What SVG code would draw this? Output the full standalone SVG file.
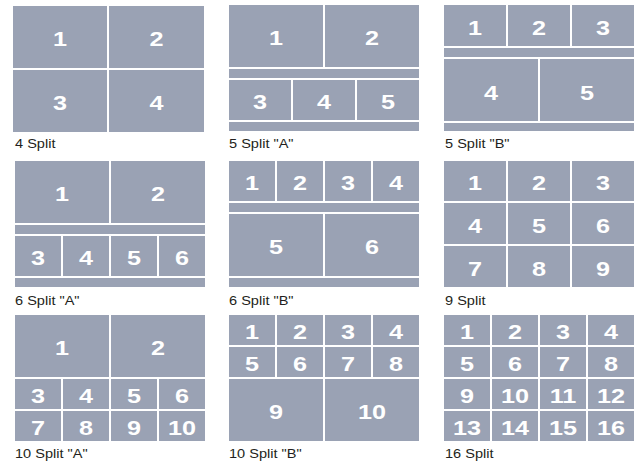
<svg xmlns="http://www.w3.org/2000/svg" width="640" height="462" viewBox="0 0 640 462">
<style>
.c{fill:#9aa2b4}
.n{font-family:"Liberation Sans",Arial,sans-serif;font-weight:bold;font-size:21px;fill:#fff;text-anchor:middle}
.l{font-family:"Liberation Sans",Arial,sans-serif;font-size:13px;fill:#231f20}
</style>
<rect width="640" height="462" fill="#fff"/>
<g id="split4">
<rect class="c" x="13" y="6" width="94" height="62"/><rect class="c" x="109" y="6" width="95" height="62"/>
<rect class="c" x="13" y="70" width="94" height="62"/><rect class="c" x="109" y="70" width="95" height="62"/>
<text class="n" transform="translate(60,45.5) scale(1.2,1)">1</text>
<text class="n" transform="translate(156.5,45.5) scale(1.2,1)">2</text>
<text class="n" transform="translate(60,109.5) scale(1.2,1)">3</text>
<text class="n" transform="translate(156.5,109.5) scale(1.2,1)">4</text>
<text class="l" transform="translate(15,148) scale(1.12,1)">4 Split</text>
</g>
<g id="split5a">
<rect class="c" x="229" y="5" width="94" height="62"/><rect class="c" x="325" y="5" width="94" height="62"/>
<rect class="c" x="229" y="69" width="190" height="9"/>
<rect class="c" x="229" y="80" width="62" height="40"/><rect class="c" x="293" y="80" width="62" height="40"/><rect class="c" x="357" y="80" width="62" height="40"/>
<rect class="c" x="229" y="122" width="190" height="9"/>
<text class="n" transform="translate(276,44.5) scale(1.2,1)">1</text>
<text class="n" transform="translate(372,44.5) scale(1.2,1)">2</text>
<text class="n" transform="translate(260,108.5) scale(1.2,1)">3</text>
<text class="n" transform="translate(324,108.5) scale(1.2,1)">4</text>
<text class="n" transform="translate(388,108.5) scale(1.2,1)">5</text>
<text class="l" transform="translate(229,148) scale(1.12,1)">5 Split "A"</text>
</g>
<g id="split5b">
<rect class="c" x="444" y="5" width="62" height="41"/><rect class="c" x="508" y="5" width="62" height="41"/><rect class="c" x="572" y="5" width="62" height="41"/>
<rect class="c" x="444" y="48" width="190" height="9"/>
<rect class="c" x="444" y="59" width="94" height="62"/><rect class="c" x="540" y="59" width="94" height="62"/>
<rect class="c" x="444" y="123" width="190" height="8"/>
<text class="n" transform="translate(475,34.5) scale(1.2,1)">1</text>
<text class="n" transform="translate(539,34.5) scale(1.2,1)">2</text>
<text class="n" transform="translate(603,34.5) scale(1.2,1)">3</text>
<text class="n" transform="translate(491,99.5) scale(1.2,1)">4</text>
<text class="n" transform="translate(587,99.5) scale(1.2,1)">5</text>
<text class="l" transform="translate(445,148) scale(1.12,1)">5 Split "B"</text>
</g>
<g id="split6a">
<rect class="c" x="15" y="161" width="94" height="62"/><rect class="c" x="111" y="161" width="94" height="62"/>
<rect class="c" x="15" y="225" width="190" height="9"/>
<rect class="c" x="15" y="236" width="46" height="40"/><rect class="c" x="63" y="236" width="46" height="40"/><rect class="c" x="111" y="236" width="46" height="40"/><rect class="c" x="159" y="236" width="46" height="40"/>
<rect class="c" x="15" y="278" width="190" height="9"/>
<text class="n" transform="translate(62,200.5) scale(1.2,1)">1</text>
<text class="n" transform="translate(158,200.5) scale(1.2,1)">2</text>
<text class="n" transform="translate(38,265) scale(1.2,1)">3</text>
<text class="n" transform="translate(86,265) scale(1.2,1)">4</text>
<text class="n" transform="translate(134,265) scale(1.2,1)">5</text>
<text class="n" transform="translate(182,265) scale(1.2,1)">6</text>
<text class="l" transform="translate(15,305) scale(1.12,1)">6 Split "A"</text>
</g>
<g id="split6b">
<rect class="c" x="229" y="161" width="46" height="40"/><rect class="c" x="277" y="161" width="46" height="40"/><rect class="c" x="325" y="161" width="46" height="40"/><rect class="c" x="373" y="161" width="46" height="40"/>
<rect class="c" x="229" y="203" width="190" height="9"/>
<rect class="c" x="229" y="214" width="94" height="62"/><rect class="c" x="325" y="214" width="94" height="62"/>
<rect class="c" x="229" y="278" width="190" height="9"/>
<text class="n" transform="translate(252,190) scale(1.2,1)">1</text>
<text class="n" transform="translate(300,190) scale(1.2,1)">2</text>
<text class="n" transform="translate(348,190) scale(1.2,1)">3</text>
<text class="n" transform="translate(396,190) scale(1.2,1)">4</text>
<text class="n" transform="translate(276,254) scale(1.2,1)">5</text>
<text class="n" transform="translate(372,254) scale(1.2,1)">6</text>
<text class="l" transform="translate(229,305) scale(1.12,1)">6 Split "B"</text>
</g>
<g id="split9">
<rect class="c" x="444" y="161" width="62" height="40"/><rect class="c" x="508" y="161" width="62" height="40"/><rect class="c" x="572" y="161" width="62" height="40"/>
<rect class="c" x="444" y="203" width="62" height="41"/><rect class="c" x="508" y="203" width="62" height="41"/><rect class="c" x="572" y="203" width="62" height="41"/>
<rect class="c" x="444" y="246" width="62" height="41"/><rect class="c" x="508" y="246" width="62" height="41"/><rect class="c" x="572" y="246" width="62" height="41"/>
<text class="n" transform="translate(475,190) scale(1.2,1)">1</text>
<text class="n" transform="translate(539,190) scale(1.2,1)">2</text>
<text class="n" transform="translate(603,190) scale(1.2,1)">3</text>
<text class="n" transform="translate(475,233) scale(1.2,1)">4</text>
<text class="n" transform="translate(539,233) scale(1.2,1)">5</text>
<text class="n" transform="translate(603,233) scale(1.2,1)">6</text>
<text class="n" transform="translate(475,276) scale(1.2,1)">7</text>
<text class="n" transform="translate(539,276) scale(1.2,1)">8</text>
<text class="n" transform="translate(603,276) scale(1.2,1)">9</text>
<text class="l" transform="translate(445,305) scale(1.12,1)">9 Split</text>
</g>
<g id="split10a">
<rect class="c" x="15" y="315" width="94" height="62"/><rect class="c" x="111" y="315" width="94" height="62"/>
<rect class="c" x="15" y="379" width="46" height="30"/><rect class="c" x="63" y="379" width="46" height="30"/><rect class="c" x="111" y="379" width="46" height="30"/><rect class="c" x="159" y="379" width="46" height="30"/>
<rect class="c" x="15" y="411" width="46" height="30"/><rect class="c" x="63" y="411" width="46" height="30"/><rect class="c" x="111" y="411" width="46" height="30"/><rect class="c" x="159" y="411" width="46" height="30"/>
<text class="n" transform="translate(62,354.5) scale(1.2,1)">1</text>
<text class="n" transform="translate(158,354.5) scale(1.2,1)">2</text>
<text class="n" transform="translate(38,403) scale(1.2,1)">3</text>
<text class="n" transform="translate(86,403) scale(1.2,1)">4</text>
<text class="n" transform="translate(134,403) scale(1.2,1)">5</text>
<text class="n" transform="translate(182,403) scale(1.2,1)">6</text>
<text class="n" transform="translate(38,435) scale(1.2,1)">7</text>
<text class="n" transform="translate(86,435) scale(1.2,1)">8</text>
<text class="n" transform="translate(134,435) scale(1.2,1)">9</text>
<text class="n" transform="translate(182,435) scale(1.2,1)">10</text>
<text class="l" transform="translate(15,458) scale(1.12,1)">10 Split "A"</text>
</g>
<g id="split10b">
<rect class="c" x="229" y="315" width="46" height="30"/><rect class="c" x="277" y="315" width="46" height="30"/><rect class="c" x="325" y="315" width="46" height="30"/><rect class="c" x="373" y="315" width="46" height="30"/>
<rect class="c" x="229" y="347" width="46" height="30"/><rect class="c" x="277" y="347" width="46" height="30"/><rect class="c" x="325" y="347" width="46" height="30"/><rect class="c" x="373" y="347" width="46" height="30"/>
<rect class="c" x="229" y="379" width="94" height="62"/><rect class="c" x="325" y="379" width="94" height="62"/>
<text class="n" transform="translate(252,339) scale(1.2,1)">1</text>
<text class="n" transform="translate(300,339) scale(1.2,1)">2</text>
<text class="n" transform="translate(348,339) scale(1.2,1)">3</text>
<text class="n" transform="translate(396,339) scale(1.2,1)">4</text>
<text class="n" transform="translate(252,371) scale(1.2,1)">5</text>
<text class="n" transform="translate(300,371) scale(1.2,1)">6</text>
<text class="n" transform="translate(348,371) scale(1.2,1)">7</text>
<text class="n" transform="translate(396,371) scale(1.2,1)">8</text>
<text class="n" transform="translate(276,418.5) scale(1.2,1)">9</text>
<text class="n" transform="translate(372,418.5) scale(1.2,1)">10</text>
<text class="l" transform="translate(229,458) scale(1.12,1)">10 Split "B"</text>
</g>
<g id="split16">
<rect class="c" x="444" y="315" width="46" height="30"/><rect class="c" x="492" y="315" width="46" height="30"/><rect class="c" x="540" y="315" width="46" height="30"/><rect class="c" x="588" y="315" width="46" height="30"/>
<rect class="c" x="444" y="347" width="46" height="30"/><rect class="c" x="492" y="347" width="46" height="30"/><rect class="c" x="540" y="347" width="46" height="30"/><rect class="c" x="588" y="347" width="46" height="30"/>
<rect class="c" x="444" y="379" width="46" height="30"/><rect class="c" x="492" y="379" width="46" height="30"/><rect class="c" x="540" y="379" width="46" height="30"/><rect class="c" x="588" y="379" width="46" height="30"/>
<rect class="c" x="444" y="411" width="46" height="30"/><rect class="c" x="492" y="411" width="46" height="30"/><rect class="c" x="540" y="411" width="46" height="30"/><rect class="c" x="588" y="411" width="46" height="30"/>
<text class="n" transform="translate(467,339) scale(1.2,1)">1</text>
<text class="n" transform="translate(515,339) scale(1.2,1)">2</text>
<text class="n" transform="translate(563,339) scale(1.2,1)">3</text>
<text class="n" transform="translate(611,339) scale(1.2,1)">4</text>
<text class="n" transform="translate(467,371) scale(1.2,1)">5</text>
<text class="n" transform="translate(515,371) scale(1.2,1)">6</text>
<text class="n" transform="translate(563,371) scale(1.2,1)">7</text>
<text class="n" transform="translate(611,371) scale(1.2,1)">8</text>
<text class="n" transform="translate(467,403) scale(1.2,1)">9</text>
<text class="n" transform="translate(515,403) scale(1.2,1)">10</text>
<text class="n" transform="translate(563,403) scale(1.2,1)">11</text>
<text class="n" transform="translate(611,403) scale(1.2,1)">12</text>
<text class="n" transform="translate(467,435) scale(1.2,1)">13</text>
<text class="n" transform="translate(515,435) scale(1.2,1)">14</text>
<text class="n" transform="translate(563,435) scale(1.2,1)">15</text>
<text class="n" transform="translate(611,435) scale(1.2,1)">16</text>
<text class="l" transform="translate(445,458) scale(1.12,1)">16 Split</text>
</g>
</svg>
